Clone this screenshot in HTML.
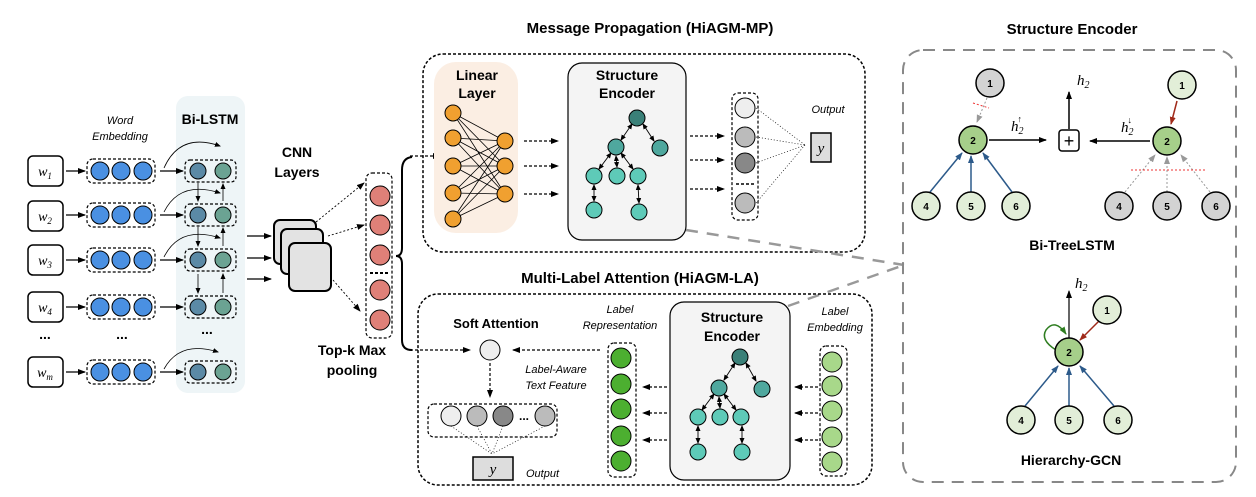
<!DOCTYPE html>
<html><head><meta charset="utf-8"><style>
body{margin:0;background:#fff}
svg{display:block;font-family:"Liberation Sans",sans-serif}
.b{font-weight:bold}
.i{font-style:italic}
.s{font-family:"Liberation Serif",serif;font-style:italic}
</style></head><body>
<svg width="1256" height="497" viewBox="0 0 1256 497" xmlns="http://www.w3.org/2000/svg">
<defs>
<marker id="a" markerWidth="8" markerHeight="8" refX="7" refY="4" orient="auto" markerUnits="userSpaceOnUse"><path d="M0,1 L8,4 L0,7z" fill="#000"/></marker>
<marker id="ab" markerWidth="8" markerHeight="8" refX="7" refY="4" orient="auto" markerUnits="userSpaceOnUse"><path d="M0,1 L8,4 L0,7z" fill="#2c5a8a"/></marker>
<marker id="ar" markerWidth="8" markerHeight="8" refX="7" refY="4" orient="auto" markerUnits="userSpaceOnUse"><path d="M0,1 L8,4 L0,7z" fill="#a02a1a"/></marker>
<marker id="ag" markerWidth="8" markerHeight="8" refX="7" refY="4" orient="auto" markerUnits="userSpaceOnUse"><path d="M0,1 L8,4 L0,7z" fill="#999"/></marker>
<marker id="agr" markerWidth="8" markerHeight="8" refX="7" refY="4" orient="auto" markerUnits="userSpaceOnUse"><path d="M0,1 L8,4 L0,7z" fill="#2e7d20"/></marker>
<marker id="as" markerWidth="6" markerHeight="6" refX="5" refY="3" orient="auto-start-reverse" markerUnits="userSpaceOnUse"><path d="M0,0.5 L6,3 L0,5.5z" fill="#000"/></marker>
</defs>

<!-- Bi-LSTM background -->
<rect x="176" y="96" width="69" height="297" rx="12" fill="#eef5f7"/>
<text x="210" y="124" class="b" font-size="14" text-anchor="middle">Bi-LSTM</text>
<text x="120" y="124" class="i" font-size="11" text-anchor="middle">Word</text>
<text x="120" y="140" class="i" font-size="11" text-anchor="middle">Embedding</text>

<g stroke="#000" fill="none">
<!-- rows -->
<g id="rows">
</g>
</g>
<!-- word boxes -->
<g stroke="#000" stroke-width="1.5" fill="#fff">
<rect x="28" y="156" width="35" height="30" rx="5"/>
<rect x="28" y="201" width="35" height="30" rx="5"/>
<rect x="28" y="245" width="35" height="30" rx="5"/>
<rect x="28" y="292" width="35" height="30" rx="5"/>
<rect x="28" y="357" width="35" height="30" rx="5"/>
</g>
<g class="s" font-size="14" text-anchor="middle">
<text x="45" y="176">w<tspan font-size="9" dy="3">1</tspan></text>
<text x="45" y="221">w<tspan font-size="9" dy="3">2</tspan></text>
<text x="45" y="265">w<tspan font-size="9" dy="3">3</tspan></text>
<text x="45" y="312">w<tspan font-size="9" dy="3">4</tspan></text>
<text x="45" y="377">w<tspan font-size="9" dy="3">m</tspan></text>
</g>
<!-- embeddings + lstm -->
<g stroke="#000" stroke-width="1.2" stroke-dasharray="3,2" fill="none">
<rect x="87" y="159" width="68" height="24" rx="6"/>
<rect x="87" y="203" width="68" height="24" rx="6"/>
<rect x="87" y="248" width="68" height="24" rx="6"/>
<rect x="87" y="295" width="68" height="24" rx="6"/>
<rect x="87" y="360" width="68" height="24" rx="6"/>
<rect x="185" y="160" width="51" height="22" rx="5"/>
<rect x="185" y="204" width="51" height="22" rx="5"/>
<rect x="185" y="249" width="51" height="22" rx="5"/>
<rect x="185" y="296" width="51" height="22" rx="5"/>
<rect x="185" y="361" width="51" height="22" rx="5"/>
</g>
<g fill="#4a90e2" stroke="#000" stroke-width="1">
<circle cx="100" cy="171" r="9"/><circle cx="121" cy="171" r="9"/><circle cx="143" cy="171" r="9"/>
<circle cx="100" cy="215" r="9"/><circle cx="121" cy="215" r="9"/><circle cx="143" cy="215" r="9"/>
<circle cx="100" cy="260" r="9"/><circle cx="121" cy="260" r="9"/><circle cx="143" cy="260" r="9"/>
<circle cx="100" cy="307" r="9"/><circle cx="121" cy="307" r="9"/><circle cx="143" cy="307" r="9"/>
<circle cx="100" cy="372" r="9"/><circle cx="121" cy="372" r="9"/><circle cx="143" cy="372" r="9"/>
</g>
<g stroke="#000" stroke-width="1">
<g fill="#5b8aa6">
<circle cx="198" cy="171" r="8"/><circle cx="198" cy="215" r="8"/><circle cx="198" cy="260" r="8"/><circle cx="198" cy="307" r="8"/><circle cx="198" cy="372" r="8"/>
</g>
<g fill="#6ba393">
<circle cx="223" cy="171" r="8"/><circle cx="223" cy="215" r="8"/><circle cx="223" cy="260" r="8"/><circle cx="223" cy="307" r="8"/><circle cx="223" cy="372" r="8"/>
</g>
</g>
<g stroke="#000" stroke-width="1.3" fill="none" marker-end="url(#a)">
<line x1="66" y1="171" x2="85" y2="171"/><line x1="66" y1="215" x2="85" y2="215"/><line x1="66" y1="260" x2="85" y2="260"/><line x1="66" y1="307" x2="85" y2="307"/><line x1="66" y1="372" x2="85" y2="372"/>
<line x1="160" y1="171" x2="183" y2="171"/><line x1="160" y1="215" x2="183" y2="215"/><line x1="160" y1="260" x2="183" y2="260"/><line x1="160" y1="307" x2="183" y2="307"/><line x1="160" y1="372" x2="183" y2="372"/>
</g>
<g stroke="#000" stroke-width="0.8" fill="none" marker-end="url(#as)">
<path d="M164,168 Q180,132 220,146"/><path d="M164,212 Q180,180 220,193"/><path d="M164,257 Q180,225 220,238"/><path d="M164,369 Q180,340 218,352"/>
<line x1="198" y1="183" x2="198" y2="201"/><line x1="198" y1="227" x2="198" y2="246"/><line x1="198" y1="274" x2="198" y2="293"/>
<line x1="223" y1="201" x2="223" y2="184"/><line x1="223" y1="246" x2="223" y2="228"/><line x1="223" y1="293" x2="223" y2="274"/>
</g>
<g font-size="14" font-weight="bold" text-anchor="middle">
<text x="45" y="339">...</text><text x="122" y="339">...</text><text x="207" y="334">...</text>
</g>
<text x="297" y="157" class="b" font-size="14" text-anchor="middle">CNN</text>
<text x="297" y="177" class="b" font-size="14" text-anchor="middle">Layers</text>
<g stroke="#000" stroke-width="1.3" marker-end="url(#a)">
<line x1="247" y1="236" x2="271" y2="236"/><line x1="247" y1="258" x2="271" y2="258"/><line x1="247" y1="279" x2="271" y2="279"/>
</g>
<g fill="#e3e3e3" stroke="#000" stroke-width="2">
<rect x="274" y="220" width="42" height="44" rx="6"/>
<rect x="281" y="229" width="42" height="45" rx="6"/>
<rect x="289" y="243" width="42" height="48" rx="6"/>
</g>
<g stroke="#000" stroke-width="0.9" stroke-dasharray="2,2" marker-end="url(#a)">
<line x1="316" y1="222" x2="364" y2="183"/><line x1="328" y1="236" x2="364" y2="225"/><line x1="333" y1="280" x2="360" y2="311"/>
</g>
<rect x="366" y="173" width="26" height="165" rx="6" fill="none" stroke="#000" stroke-width="1.2" stroke-dasharray="3,2"/>
<g fill="#df8078" stroke="#000" stroke-width="1">
<circle cx="380" cy="196" r="10"/><circle cx="380" cy="225" r="10"/><circle cx="380" cy="255" r="10"/><circle cx="380" cy="290" r="10"/><circle cx="380" cy="320" r="10"/>
</g>
<line x1="370" y1="273" x2="390" y2="273" stroke="#000" stroke-width="2" stroke-dasharray="3,2"/>
<text x="352" y="355" class="b" font-size="14" text-anchor="middle">Top-k Max</text>
<text x="352" y="375" class="b" font-size="14" text-anchor="middle">pooling</text>
<path d="M412,157 Q402,158 402,170 L402,248 Q402,256 396,256 Q402,256 402,264 L402,340 Q402,350 412,350" fill="none" stroke="#000" stroke-width="2"/>

<!-- Message Propagation -->
<text x="650" y="33" class="b" font-size="15" text-anchor="middle">Message Propagation (HiAGM-MP)</text>
<rect x="423" y="54" width="442" height="198" rx="20" fill="none" stroke="#000" stroke-width="1.5" stroke-dasharray="3,2"/>
<line x1="410" y1="156" x2="440" y2="156" stroke="#000" stroke-width="1.2" stroke-dasharray="3,2" marker-end="url(#a)"/>
<rect x="434" y="62" width="84" height="171" rx="22" fill="#fbeee3"/>
<text x="477" y="80" class="b" font-size="14" text-anchor="middle">Linear</text>
<text x="477" y="98" class="b" font-size="14" text-anchor="middle">Layer</text>
<g stroke="#000" stroke-width="0.8">
<path d="M453,113L505,141M453,113L505,166M453,113L505,194M453,138L505,141M453,138L505,166M453,138L505,194M453,166L505,141M453,166L505,166M453,166L505,194M453,193L505,141M453,193L505,166M453,193L505,194M453,219L505,141M453,219L505,166M453,219L505,194"/>
</g>
<g fill="#f0a030" stroke="#000" stroke-width="1">
<circle cx="453" cy="113" r="8"/><circle cx="453" cy="138" r="8"/><circle cx="453" cy="166" r="8"/><circle cx="453" cy="193" r="8"/><circle cx="453" cy="219" r="8"/>
<circle cx="505" cy="141" r="8"/><circle cx="505" cy="166" r="8"/><circle cx="505" cy="194" r="8"/>
</g>
<g stroke="#000" stroke-width="1.3" stroke-dasharray="3,2" marker-end="url(#a)">
<line x1="524" y1="141" x2="558" y2="141"/><line x1="524" y1="166" x2="558" y2="166"/><line x1="524" y1="194" x2="558" y2="194"/>
<line x1="690" y1="136" x2="724" y2="136"/><line x1="690" y1="160" x2="724" y2="160"/><line x1="690" y1="189" x2="724" y2="189"/>
</g>
<rect x="568" y="63" width="118" height="177" rx="14" fill="#f4f4f4" stroke="#000" stroke-width="1.2"/>
<text x="627" y="80" class="b" font-size="14" text-anchor="middle">Structure</text>
<text x="627" y="98" class="b" font-size="14" text-anchor="middle">Encoder</text>
<g stroke="#000" stroke-width="0.9" marker-end="url(#as)" marker-start="url(#as)">
<line x1="632" y1="124" x2="621" y2="140"/><line x1="643" y1="124" x2="654" y2="141"/>
<line x1="611" y1="153" x2="599" y2="169"/><line x1="616" y1="156" x2="617" y2="167"/><line x1="621" y1="153" x2="633" y2="169"/>
<line x1="594" y1="185" x2="594" y2="201"/><line x1="638" y1="185" x2="639" y2="203"/>
</g>
<g stroke="#000" stroke-width="1">
<circle cx="637" cy="118" r="8" fill="#3a8078"/>
<circle cx="616" cy="147" r="8" fill="#4fa89e"/><circle cx="660" cy="148" r="8" fill="#4fa89e"/>
<circle cx="594" cy="176" r="8" fill="#5ecab8"/><circle cx="617" cy="176" r="8" fill="#5ecab8"/><circle cx="638" cy="176" r="8" fill="#5ecab8"/>
<circle cx="594" cy="210" r="8" fill="#5ecab8"/><circle cx="639" cy="212" r="8" fill="#5ecab8"/>
</g>
<rect x="732" y="93" width="26" height="127" rx="6" fill="none" stroke="#000" stroke-width="1.2" stroke-dasharray="3,2"/>
<g stroke="#000" stroke-width="0.7" stroke-dasharray="1,2">
<line x1="756" y1="108" x2="805" y2="145"/><line x1="756" y1="137" x2="805" y2="145"/><line x1="756" y1="163" x2="805" y2="145"/><line x1="756" y1="203" x2="805" y2="145"/>
</g>
<g stroke="#000" stroke-width="1">
<circle cx="745" cy="108" r="10" fill="#eee"/><circle cx="745" cy="137" r="10" fill="#bbb"/><circle cx="745" cy="163" r="10" fill="#888"/><circle cx="745" cy="203" r="10" fill="#bbb"/>
</g>
<line x1="736" y1="184" x2="754" y2="184" stroke="#000" stroke-width="1.5" stroke-dasharray="3,2"/>
<text x="828" y="113" class="i" font-size="11" text-anchor="middle">Output</text>
<rect x="811" y="133" width="20" height="29" fill="#ddd" stroke="#000" stroke-width="1.5"/>
<text x="821" y="153" class="s" font-size="15" text-anchor="middle">y</text>

<!-- gray connector lines -->
<g stroke="#999" stroke-width="2.5" stroke-dasharray="12,9" fill="none">
<line x1="686" y1="230" x2="904" y2="265"/>
<line x1="788" y1="306" x2="904" y2="265"/>
</g>

<!-- Multi-Label Attention -->
<text x="640" y="283" class="b" font-size="15" text-anchor="middle">Multi-Label Attention (HiAGM-LA)</text>
<rect x="418" y="294" width="454" height="191" rx="20" fill="none" stroke="#000" stroke-width="1.5" stroke-dasharray="3,2"/>
<text x="496" y="328" class="b" font-size="13" text-anchor="middle">Soft Attention</text>
<g stroke="#000" stroke-width="1.2" stroke-dasharray="3,2" marker-end="url(#a)">
<line x1="410" y1="350" x2="470" y2="350"/><line x1="600" y1="350" x2="513" y2="350"/><line x1="490" y1="363" x2="490" y2="397"/>
<line x1="667" y1="387" x2="643" y2="387"/><line x1="667" y1="413" x2="643" y2="413"/><line x1="667" y1="440" x2="643" y2="440"/>
<line x1="818" y1="387" x2="795" y2="387"/><line x1="818" y1="413" x2="795" y2="413"/><line x1="818" y1="440" x2="795" y2="440"/>
</g>
<circle cx="490" cy="350" r="10" fill="#eee" stroke="#000" stroke-width="1"/>
<text x="556" y="373" class="i" font-size="11" text-anchor="middle">Label-Aware</text>
<text x="556" y="389" class="i" font-size="11" text-anchor="middle">Text Feature</text>
<rect x="428" y="404" width="129" height="33" rx="6" fill="none" stroke="#000" stroke-width="1.2" stroke-dasharray="3,2"/>
<g stroke="#000" stroke-width="0.7" stroke-dasharray="1,2">
<line x1="451" y1="426" x2="492" y2="454"/><line x1="477" y1="426" x2="492" y2="454"/><line x1="503" y1="426" x2="492" y2="454"/><line x1="545" y1="426" x2="492" y2="454"/>
</g>
<g stroke="#000" stroke-width="1">
<circle cx="451" cy="416" r="10" fill="#eee"/><circle cx="477" cy="416" r="10" fill="#bbb"/><circle cx="503" cy="416" r="10" fill="#888"/><circle cx="545" cy="416" r="10" fill="#bbb"/>
</g>
<text x="524" y="420" font-size="12" font-weight="bold" text-anchor="middle">...</text>
<rect x="473" y="457" width="40" height="23" fill="#ddd" stroke="#000" stroke-width="1.5"/>
<text x="493" y="474" class="s" font-size="15" text-anchor="middle">y</text>
<text x="526" y="477" class="i" font-size="11">Output</text>
<text x="620" y="313" class="i" font-size="11" text-anchor="middle">Label</text>
<text x="620" y="329" class="i" font-size="11" text-anchor="middle">Representation</text>
<rect x="608" y="343" width="28" height="134" rx="6" fill="none" stroke="#000" stroke-width="1.2" stroke-dasharray="3,2"/>
<g fill="#4caf30" stroke="#000" stroke-width="1">
<circle cx="621" cy="358" r="10"/><circle cx="621" cy="384" r="10"/><circle cx="621" cy="409" r="10"/><circle cx="621" cy="436" r="10"/><circle cx="621" cy="461" r="10"/>
</g>
<rect x="670" y="302" width="120" height="178" rx="14" fill="#f4f4f4" stroke="#000" stroke-width="1.2"/>
<text x="732" y="322" class="b" font-size="14" text-anchor="middle">Structure</text>
<text x="732" y="341" class="b" font-size="14" text-anchor="middle">Encoder</text>
<g stroke="#000" stroke-width="0.9" marker-end="url(#as)" marker-start="url(#as)">
<line x1="735" y1="363" x2="724" y2="380"/><line x1="746" y1="363" x2="756" y2="381"/>
<line x1="714" y1="394" x2="702" y2="410"/><line x1="719" y1="397" x2="720" y2="408"/><line x1="724" y1="394" x2="736" y2="410"/>
<line x1="698" y1="426" x2="698" y2="443"/><line x1="742" y1="426" x2="742" y2="443"/>
</g>
<g stroke="#000" stroke-width="1">
<circle cx="740" cy="357" r="8" fill="#3a8078"/>
<circle cx="719" cy="388" r="8" fill="#4fa89e"/><circle cx="762" cy="389" r="8" fill="#4fa89e"/>
<circle cx="698" cy="417" r="8" fill="#5ecab8"/><circle cx="720" cy="417" r="8" fill="#5ecab8"/><circle cx="741" cy="417" r="8" fill="#5ecab8"/>
<circle cx="698" cy="452" r="8" fill="#5ecab8"/><circle cx="742" cy="452" r="8" fill="#5ecab8"/>
</g>
<text x="835" y="315" class="i" font-size="11" text-anchor="middle">Label</text>
<text x="835" y="331" class="i" font-size="11" text-anchor="middle">Embedding</text>
<rect x="820" y="346" width="27" height="130" rx="6" fill="none" stroke="#000" stroke-width="1.2" stroke-dasharray="3,2"/>
<g fill="#a8d88a" stroke="#000" stroke-width="1">
<circle cx="832" cy="362" r="10"/><circle cx="832" cy="386" r="10"/><circle cx="832" cy="411" r="10"/><circle cx="832" cy="437" r="10"/><circle cx="832" cy="462" r="10"/>
</g>

<!-- Structure Encoder panel -->
<text x="1072" y="34" class="b" font-size="15" text-anchor="middle">Structure Encoder</text>
<rect x="903" y="50" width="333" height="432" rx="20" fill="none" stroke="#888" stroke-width="2" stroke-dasharray="12,8"/>
<!-- left tree -->
<g stroke="#2c5a8a" stroke-width="1.5" marker-end="url(#ab)">
<line x1="930" y1="192" x2="962" y2="153"/><line x1="971" y1="192" x2="971" y2="156"/><line x1="1012" y1="192" x2="983" y2="153"/>
<line x1="1025" y1="406" x2="1058" y2="366"/><line x1="1069" y1="406" x2="1069" y2="368"/><line x1="1114" y1="406" x2="1080" y2="366"/>
</g>
<line x1="987" y1="98" x2="977" y2="122" stroke="#999" stroke-width="1" stroke-dasharray="2,2" marker-end="url(#ag)"/>
<line x1="973" y1="103" x2="989" y2="108" stroke="#e33" stroke-width="1" stroke-dasharray="2,2"/>
<g stroke="#999" stroke-width="1" stroke-dasharray="2,2" marker-end="url(#ag)">
<line x1="1125" y1="192" x2="1155" y2="155"/><line x1="1167" y1="192" x2="1167" y2="157"/><line x1="1210" y1="192" x2="1181" y2="155"/>
</g>
<line x1="1131" y1="170" x2="1205" y2="170" stroke="#e33" stroke-width="1" stroke-dasharray="2,2"/>
<line x1="1177" y1="101" x2="1171" y2="124" stroke="#a02a1a" stroke-width="1.5" marker-end="url(#ar)"/>
<line x1="1099" y1="321" x2="1080" y2="340" stroke="#a02a1a" stroke-width="1.5" marker-end="url(#ar)"/>
<g stroke="#000" stroke-width="1.5" marker-end="url(#a)">
<line x1="989" y1="140" x2="1046" y2="140"/><line x1="1150" y1="141" x2="1090" y2="141"/><line x1="1069" y1="129" x2="1069" y2="92"/>
</g>
<line x1="1069" y1="338" x2="1069" y2="291" stroke="#000" stroke-width="1.2" marker-end="url(#a)"/>
<path d="M1056,350 Q1040,340 1046,330 Q1055,318 1066,334" fill="none" stroke="#2e7d20" stroke-width="1.5" marker-end="url(#agr)"/>
<rect x="1059" y="130" width="20" height="21" rx="3" fill="#fff" stroke="#000" stroke-width="1.5"/>
<text x="1069" y="147" font-size="18" text-anchor="middle">+</text>
<g class="s" font-size="15">
<text x="1077" y="85">h<tspan font-size="10" dy="3">2</tspan></text>
<text x="1011" y="131">h<tspan font-size="10" dy="3">2</tspan><tspan font-size="9" dx="-6" dy="-12">↑</tspan></text>
<text x="1121" y="132">h<tspan font-size="10" dy="3">2</tspan><tspan font-size="9" dx="-6" dy="-12">↓</tspan></text>
<text x="1075" y="288">h<tspan font-size="10" dy="3">2</tspan></text>
</g>
<g stroke="#000" stroke-width="1.5">
<circle cx="990" cy="83" r="14" fill="#d3d3d3"/>
<circle cx="973" cy="140" r="14" fill="#a6cf8a"/>
<circle cx="926" cy="206" r="14" fill="#e2eed8"/><circle cx="971" cy="206" r="14" fill="#e2eed8"/><circle cx="1016" cy="206" r="14" fill="#e2eed8"/>
<circle cx="1182" cy="85" r="14" fill="#e2eed8"/>
<circle cx="1167" cy="141" r="14" fill="#a6cf8a"/>
<circle cx="1119" cy="206" r="14" fill="#d3d3d3"/><circle cx="1167" cy="206" r="14" fill="#d3d3d3"/><circle cx="1216" cy="206" r="14" fill="#d3d3d3"/>
<circle cx="1069" cy="352" r="14" fill="#a6cf8a"/><circle cx="1107" cy="310" r="14" fill="#e2eed8"/>
<circle cx="1021" cy="420" r="14" fill="#e2eed8"/><circle cx="1069" cy="420" r="14" fill="#e2eed8"/><circle cx="1118" cy="420" r="14" fill="#e2eed8"/>
</g>
<g font-size="10" text-anchor="middle" font-weight="bold">
<text x="990" y="87">1</text><text x="973" y="144">2</text><text x="926" y="210">4</text><text x="971" y="210">5</text><text x="1016" y="210">6</text>
<text x="1182" y="89">1</text><text x="1167" y="145">2</text><text x="1119" y="210">4</text><text x="1167" y="210">5</text><text x="1216" y="210">6</text>
<text x="1069" y="356">2</text><text x="1107" y="314">1</text><text x="1021" y="424">4</text><text x="1069" y="424">5</text><text x="1118" y="424">6</text>
</g>
<text x="1072" y="250" class="b" font-size="14" text-anchor="middle">Bi-TreeLSTM</text>
<text x="1071" y="465" class="b" font-size="14" text-anchor="middle">Hierarchy-GCN</text>
</svg>
</body></html>
